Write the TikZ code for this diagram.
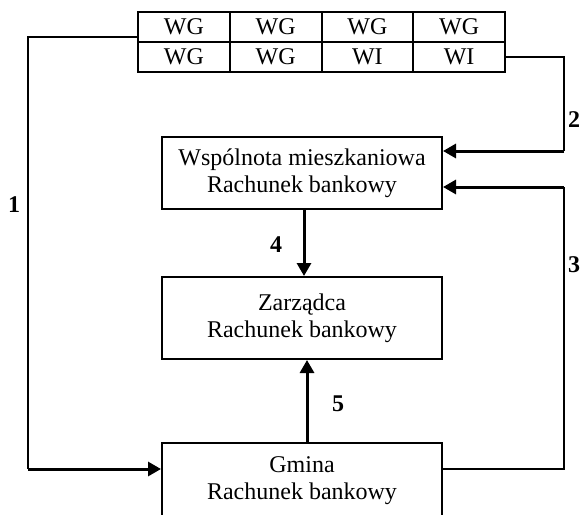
\documentclass[tikz,border=0pt]{standalone}
\usepackage{fontspec}
\setmainfont{Liberation Serif}
\usetikzlibrary{positioning,arrows.meta}

\begin{document}
\begin{tikzpicture}[x=0.5pt,y=-0.5pt,font=\fontsize{12}{13.5}\selectfont,
  cell/.style={draw,line width=1pt,minimum width=45.875pt,minimum height=15pt,inner sep=0pt},
  acct/.style={draw,line width=1pt,minimum width=140pt,inner sep=0pt,align=center},
  thinln/.style={line width=0.8pt},
  flow/.style={line width=1.5pt,-{Triangle[length=6.5pt,width=7pt]}},
  num/.style={font=\fontsize{12}{13.5}\selectfont\bfseries}]
\useasboundingbox (0,0) rectangle (581,514);
% table of water meters
\foreach \lab [count=\i] in {WG,WG,WG,WG} \node[cell] (c1\i) at (138+91.75*\i-45.875,27) {\lab};
\foreach \lab [count=\i] in {WG,WG,WI,WI} \node[cell] (c2\i) at (138+91.75*\i-45.875,57) {\lab};
% accounts
\node[acct,minimum height=36pt] (W) at (302,173) {Wspólnota mieszkaniowa\\Rachunek bankowy};
\node[acct,minimum height=41pt] (Z) at (302,318) {Zarządca\\Rachunek bankowy};
\node[acct,minimum height=37.5pt,anchor=north] (G) at (302,442) {Gmina\\Rachunek bankowy};
% corners of the outer lines
\coordinate (p1) at (28,469);
\coordinate (p2) at (564,151);
\coordinate (p3) at (564,187);
\coordinate (p3b) at (564,469);
\draw[thinln] ([yshift=2pt]c21.north west) -| (p1);
\draw[flow] (p1) -- (G.west |- p1);
\draw[thinln] (c24.east) -| (p2);
\draw[flow] (p2) -- (W.east |- p2);
\draw[thinln] (G.east |- p3b) -- (p3b) -- (p3);
\draw[flow] (p3) -- (W.east |- p3);
\draw[flow] ([xshift=1pt]W.south) -- ([xshift=1pt]Z.north);
\draw[flow] ([xshift=2.5pt]G.north) -- ([xshift=2.5pt]Z.south);
% numbers
\node[num] (n1) at (14,205) {1};
\node[num] (n2) at (574,120) {2};
\node[num] (n3) at (574,265) {3};
\node[num] (n4) at (276,245) {4};
\node[num] (n5) at (338,404) {5};
\end{tikzpicture}
\end{document}
